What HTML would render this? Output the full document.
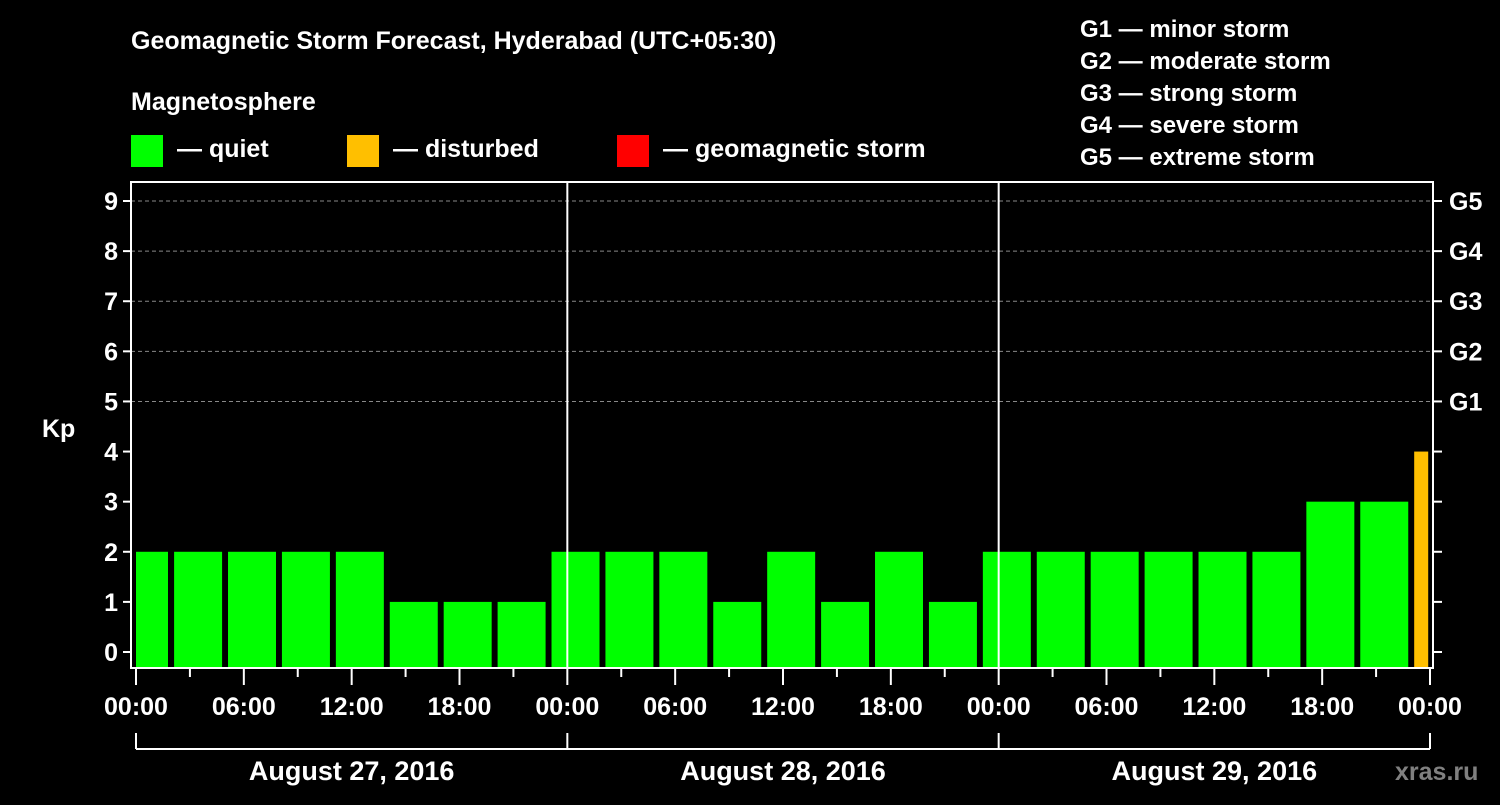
<!DOCTYPE html>
<html><head><meta charset="utf-8"><style>
body{margin:0;background:#000;width:1500px;height:800px;overflow:hidden}
text{font-family:"Liberation Sans",sans-serif;font-weight:bold;fill:#fff}
</style></head><body>
<svg id="chart" width="1500" height="800" xmlns="http://www.w3.org/2000/svg">
<rect width="1500" height="800" fill="#000"/>
<text x="131" y="49" font-size="25">Geomagnetic Storm Forecast, Hyderabad (UTC+05:30)</text>
<text x="131" y="110" font-size="25">Magnetosphere</text>
<g><rect x="131" y="135" width="32" height="32" fill="#00ff00"/><text x="177" y="157" font-size="25">— quiet</text></g>
<g><rect x="347" y="135" width="32" height="32" fill="#ffbf00"/><text x="393" y="157" font-size="25">— disturbed</text></g>
<g><rect x="617" y="135" width="32" height="32" fill="#ff0000"/><text x="663" y="157" font-size="25">— geomagnetic storm</text></g>
<g font-size="24">
<text x="1080" y="37">G1 — minor storm</text>
<text x="1080" y="69">G2 — moderate storm</text>
<text x="1080" y="101">G3 — strong storm</text>
<text x="1080" y="133">G4 — severe storm</text>
<text x="1080" y="165">G5 — extreme storm</text>
</g>
<text x="42" y="437" font-size="25">Kp</text>
<text x="1395" y="780" font-size="25" style="fill:#808080">xras.ru</text>
<g id="plot"></g>
</svg>
<script>
const values=[2,2,2,2,2,1,1,1,2,2,2,1,2,1,2,1,2,2,2,2,2,2,3,3,4];
const yTicks=[0,1,2,3,4,5,6,7,8,9];
const gLabels=["G1","G2","G3","G4","G5"];
const timeLabels=["00:00","06:00","12:00","18:00"];
const dayLabels=["August 27, 2016","August 28, 2016","August 29, 2016"];
const NS="http://www.w3.org/2000/svg";
const L=131,R=1433,T=182,B=668;
const xs=h=>136+h*(1430-136)/72;
const ys=v=>652-v*50.11;
const g=document.getElementById('plot');
function mk(t,a,p){const e=document.createElementNS(NS,t);for(const k in a)e.setAttribute(k,a[k]);(p||g).appendChild(e);return e;}
// grid
yTicks.forEach(v=>{if(v>=5){const l=mk('line',{x1:L,x2:R,y1:ys(v),y2:ys(v),stroke:'#888','stroke-dasharray':'4,3','stroke-width':1});

}});
// bars
values.forEach((v,i)=>{
 let s,e;
 if(i===0){s=0;e=1.78;}else{s=2.12+3*(i-1);e=Math.min(s+2.67,71.9);}
 const col=v>=5?'#ff0000':(v>=4?'#ffbf00':'#00ff00');
 const r=mk('rect',{x:xs(s),y:ys(v),width:xs(e)-xs(s),height:B-ys(v),fill:col});
 
 
});
// day separators
[24,48].forEach(h=>{const l=mk('line',{x1:xs(h),x2:xs(h),y1:T,y2:B,stroke:'#fff','stroke-width':2});

});
// frame
const f=mk('rect',{x:L,y:T,width:R-L,height:B-T,fill:'none',stroke:'#fff','stroke-width':2});


// y ticks
yTicks.forEach(v=>{
 mk('line',{x1:L-8,x2:L,y1:ys(v),y2:ys(v),stroke:'#fff','stroke-width':2});
 mk('line',{x1:R,x2:R+9,y1:ys(v),y2:ys(v),stroke:'#fff','stroke-width':2});
 const t=mk('text',{x:118,y:ys(v)+9,'font-size':25,'text-anchor':'end'});t.textContent=v;
 
 
});
gLabels.forEach((s,i)=>{const t=mk('text',{x:1449,y:ys(5+i)+9,'font-size':25});t.textContent=s;
 
 });
// x ticks
for(let h=0;h<=72;h+=3){const major=h%6===0;mk('line',{x1:xs(h),x2:xs(h),y1:B,y2:B+(major?17:9),stroke:'#fff','stroke-width':2});}
for(let h=0;h<=72;h+=6){const t=mk('text',{x:xs(h),y:715,'font-size':25,'text-anchor':'middle'});t.textContent=timeLabels[(h/6)%4];
 
 }
// day bracket
mk('line',{x1:xs(0),x2:xs(72),y1:749,y2:749,stroke:'#fff','stroke-width':2});
[0,24,48,72].forEach(h=>mk('line',{x1:xs(h),x2:xs(h),y1:733,y2:749,stroke:'#fff','stroke-width':2}));
dayLabels.forEach((s,i)=>{const t=mk('text',{x:xs(24*i+12),y:780,'font-size':27,'text-anchor':'middle'});t.textContent=s;
 
 });
</script>
</body></html>
